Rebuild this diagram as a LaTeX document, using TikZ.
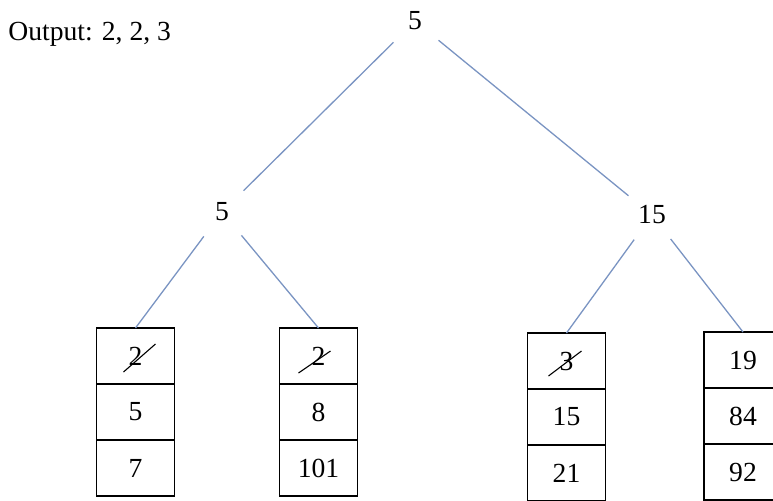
\documentclass[tikz,border=0pt]{standalone}
\usepackage{fontspec}
\setmainfont{Liberation Serif}
\usetikzlibrary{positioning}
\definecolor{edgeblue}{RGB}{122,148,194}

\begin{document}
\begin{tikzpicture}[
    x=0.5pt, y=-0.5pt,
    node distance=0pt,
    font=\fontsize{13.8}{16}\selectfont,
    treenode/.style={circle, inner sep=0pt, minimum size=30pt},
    cell/.style={draw, line width=0.95pt, outer sep=0pt, inner sep=0pt,
      minimum width=39pt, minimum height=28pt},
    edge/.style={edgeblue, line width=0.65pt},
    strike/.style={line width=0.55pt}
  ]
    \useasboundingbox (0,0) rectangle (773,500);
    \clip (0,0) rectangle (773,500);
    \node[anchor=base west, inner sep=0pt] (output) at (8,40) {Output: 2, 2, 3};
    % tree
    \node[treenode] (root) at (415,21) {5};
    \node[treenode] (lmid) at (222,212) {5};
    \node[treenode] (rmid) at (652,215) {15};
    % leaf buckets
    \node[cell] (b1a) at (135.5,356) {2};
    \node[cell, below=of b1a] (b1b) {5};
    \node[cell, below=of b1b] (b1c) {7};
    \node[cell] (b2a) at (318.5,356) {2};
    \node[cell, below=of b2a] (b2b) {8};
    \node[cell, below=of b2b] (b2c) {101};
    \node[cell] (b3a) at (566.5,361) {3};
    \node[cell, below=of b3a] (b3b) {15};
    \node[cell, below=of b3b] (b3c) {21};
    \node[cell] (b4a) at (743,360) {19};
    \node[cell, below=of b4a] (b4b) {84};
    \node[cell, below=of b4b] (b4c) {92};
    \draw[edge] (root) -- (lmid);
    \draw[edge] (root) -- (rmid);
    \draw[edge] (lmid) -- (b1a.north);
    \draw[edge] (lmid) -- (b2a.north);
    \draw[edge] (rmid) -- (b3a.north);
    \draw[edge] (rmid) -- (b4a.north);
    % crossed out
    \draw[strike] ([shift={(-12,16)}]b1a.center) -- ([shift={(20,-12)}]b1a.center);
    \draw[strike] ([shift={(-20,17)}]b2a.center) -- ([shift={(12,-5)}]b2a.center);
    \draw[strike] ([shift={(-18,15)}]b3a.center) -- ([shift={(15,-10)}]b3a.center);
  \end{tikzpicture}
\end{document}
